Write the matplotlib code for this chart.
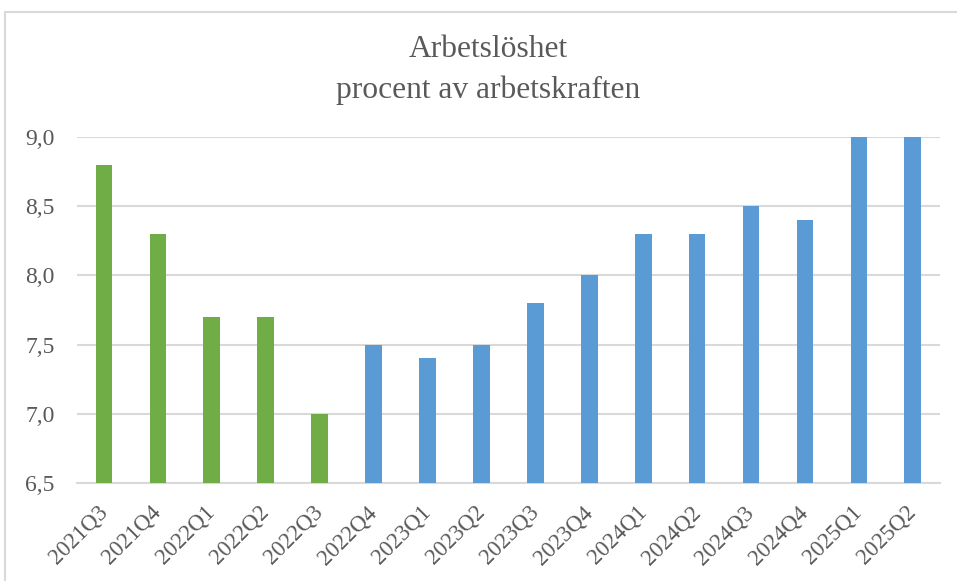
import matplotlib.pyplot as plt
from matplotlib.patches import Rectangle

# data
quarters = ['2021Q3', '2021Q4', '2022Q1', '2022Q2', '2022Q3', '2022Q4',
            '2023Q1', '2023Q2', '2023Q3', '2023Q4', '2024Q1', '2024Q2',
            '2024Q3', '2024Q4', '2025Q1', '2025Q2']
unemployment = [8.8, 8.3, 7.7, 7.7, 7.0, 7.5, 7.4, 7.5, 7.8, 8.0, 8.3, 8.3,
                8.5, 8.4, 9.0, 9.0]
n_green = 5

green = '#70AD47'
blue = '#5B9BD5'
txt = '#595959'
grid = '#D9D9D9'

plt.rcParams['font.family'] = ['Liberation Serif', 'DejaVu Serif']

fig = plt.figure(figsize=(9.57, 5.81), dpi=100)
ax = fig.add_axes([0.0805, 0.169, 0.9015, 0.595])

colors = [green if i < n_green else blue for i in range(len(quarters))]
x = range(len(quarters))
ax.bar(x, [v - 6.5 for v in unemployment], bottom=6.5, width=0.31,
       color=colors, zorder=3)

ax.set_xlim(-0.5, len(quarters) - 0.5)
ax.set_ylim(6.5, 9.0)
yt = [6.5, 7.0, 7.5, 8.0, 8.5, 9.0]
ax.set_yticks(yt)
ax.set_yticklabels([('%.1f' % v).replace('.', ',') for v in yt],
                   fontsize=17, color=txt)
ax.set_xticks(list(x))
ax.set_xticklabels(quarters, rotation=45, ha='right', va='center',
                   rotation_mode='anchor', fontsize=16.5, color=txt)
ax.tick_params(axis='both', length=0)
ax.tick_params(axis='y', pad=16)
ax.tick_params(axis='x', pad=19)
ax.grid(axis='y', color=grid, lw=1.5, zorder=0)
for s in ['top', 'right', 'left']:
    ax.spines[s].set_visible(False)
ax.spines['bottom'].set_color(grid)
ax.spines['bottom'].set_linewidth(1.5)

fig.text(0.51, 0.879, 'Arbetslöshet\nprocent av arbetskraften', ha='center',
         va='center', fontsize=22.7, color=txt, linespacing=1.5)

# chart border
fig.patches.append(Rectangle((5 / 957, -0.05), 1.0, 1.05 - 12 / 581,
                             transform=fig.transFigure, fill=False,
                             edgecolor=grid, lw=1.5))

fig.savefig('out.png', dpi=100)
